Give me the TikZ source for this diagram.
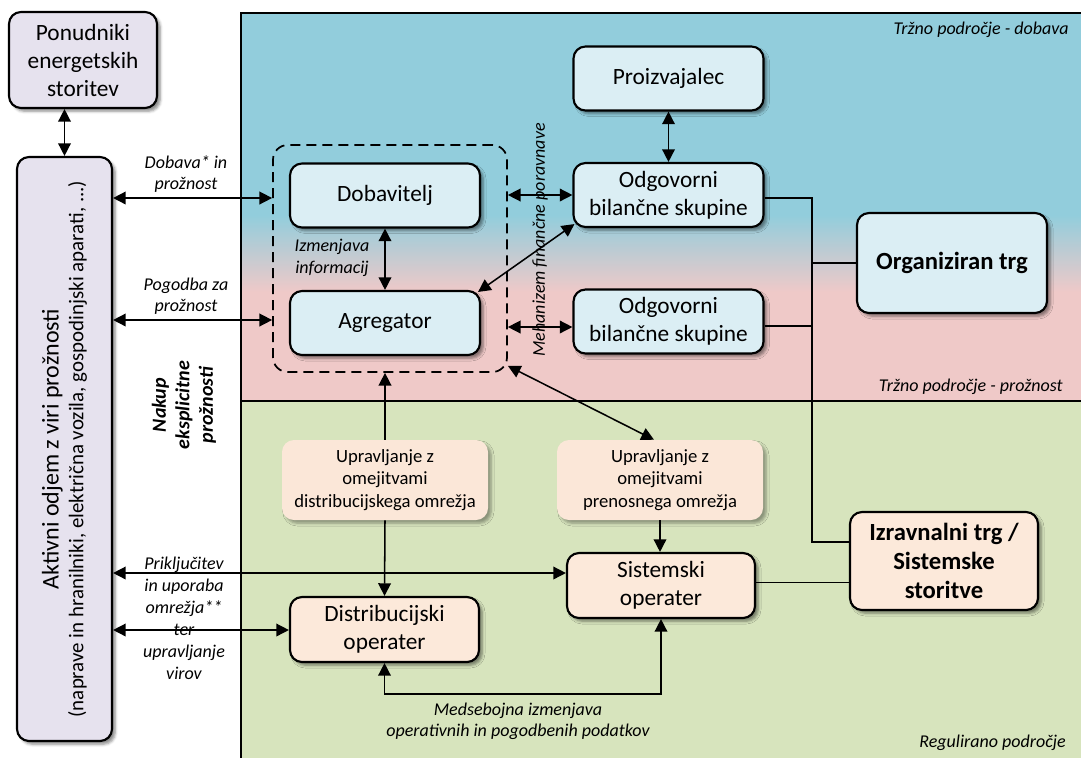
\documentclass[tikz,border=0pt]{standalone}
\usepackage{fontspec}
\setmainfont{Carlito}
\usetikzlibrary{arrows.meta,shadows.blur,calc}

\definecolor{regblue}{HTML}{92CDDC}
\definecolor{regpink}{HTML}{EFC9C8}
\definecolor{reggreen}{HTML}{D7E4BD}
\definecolor{boxblue}{HTML}{DBEEF4}
\definecolor{boxlav}{HTML}{E6E2EE}
\definecolor{boxpeach}{HTML}{FCE9DA}
\definecolor{uprpeach}{HTML}{FBE7D8}

\newcommand\bxfont{\fontsize{17.5}{21}\selectfont}
\newcommand\bxbold{\bfseries\fontsize{18.5}{21.5}\selectfont}
\newcommand\lblfont{\itshape\fontsize{13.5}{16}\selectfont}
\newcommand\regfont{\itshape\fontsize{13.5}{16}\selectfont}
\newcommand\uprfont{\fontsize{14}{17}\selectfont}

\tikzset{
  box/.style={draw, line width=1.6pt, rounded corners=9pt, align=center,
    inner sep=0pt, font=\bxfont,
    blur shadow={shadow xshift=2.5pt, shadow yshift=-2.5pt,
      shadow opacity=45, shadow blur radius=2pt}},
  bluebox/.style={box, fill=boxblue, minimum width=142.5pt, minimum height=48pt},
  lavbox/.style={box, fill=boxlav},
  peachbox/.style={box, fill=boxpeach},
  uprbox/.style={fill=uprpeach, rounded corners=9pt, align=center, inner sep=0pt,
    font=\uprfont, minimum height=60pt, minimum width=154.5pt,
    blur shadow={shadow xshift=2.5pt, shadow yshift=-2.5pt,
      shadow opacity=35, shadow blur radius=2pt}},
  lbl/.style={align=center, font=\lblfont, inner sep=0pt},
  reglbl/.style={font=\regfont, inner sep=0pt},
  conn/.style={line width=1.15pt},
  dbl/.style={conn, {Triangle[length=9.5pt,width=9.5pt]}-{Triangle[length=9.5pt,width=9.5pt]}},
  one/.style={conn, -{Triangle[length=9.5pt,width=9.5pt]}},
}

\begin{document}
\begin{tikzpicture}[x=0.75pt,y=-0.75pt]
\useasboundingbox (0,0) rectangle (1081,758);

% market and regulated areas
\fill[regblue] (241,13) rectangle (1081,215);
\shade[top color=regblue, bottom color=regpink] (241,215) rectangle (1081,292);
\fill[regpink] (241,292) rectangle (1081,401);
\fill[reggreen] (241,401) rectangle (1081,758);
\draw[line width=1.3pt] (1081,13) -- (241,13) -- (241,758);
\draw[line width=1.3pt] (241,401) -- (1081,401);

\node[reglbl, anchor=east] at (1069,30) {Tržno področje - dobava};
\node[reglbl, anchor=east] at (1063,387) {Tržno področje - prožnost};
\node[reglbl, anchor=east] at (1066,743) {Regulirano področje};

% left column
\node[lavbox, minimum width=111pt, minimum height=72pt] (pon) at (83,60)
  {Ponudniki\\energetskih\\storitev};
\node[lavbox, minimum width=71.25pt, minimum height=438pt] (akt) at (64.5,449) {};
\node[rotate=90, align=center, inner sep=0pt] (akttxt) at (akt.center)
  {{\fontsize{18}{21}\selectfont Aktivni odjem z viri prožnosti}\\[3pt]
   {\fontsize{15.7}{18}\selectfont (naprave in hranilniki, električna vozila, gospodinjski aparati, ...)}};

% market participants
\node[draw, line width=1.3pt, dash pattern=on 7.5pt off 4.5pt,
  rounded corners=11pt, minimum width=175.5pt, minimum height=170.25pt,
  inner sep=0pt] (grp) at (390,258.5) {};
\node[bluebox] (dob) at (385,195.5) {Dobavitelj};
\node[bluebox] (agr) at (385,323) {Agregator};
\node[bluebox] (proi) at (668.5,78.5) {Proizvajalec};
\node[bluebox] (odg1) at (668.5,195) {Odgovorni\\bilančne skupine};
\node[bluebox] (odg2) at (668.5,321.5) {Odgovorni\\bilančne skupine};
\node[bluebox, minimum height=75pt, font=\bxbold]
  (org) at (952,263) {Organiziran trg};

% regulated participants
\node[uprbox] (upd) at (385,480)
  {Upravljanje z\\omejitvami\\distribucijskega omrežja};
\node[uprbox] (upp) at (660,480)
  {Upravljanje z\\omejitvami\\prenosnega omrežja};
\node[peachbox, minimum width=141pt, minimum height=48.75pt] (sis) at (661,585.5)
  {Sistemski\\operater};
\node[peachbox, minimum width=141.75pt, minimum height=48.75pt] (dis) at (384.5,629.5)
  {Distribucijski\\operater};
\node[peachbox, minimum width=141pt, minimum height=73.5pt, font=\bxbold]
  (izr) at (944,561) {Izravnalni trg /\\Sistemske\\storitve};

% connectors
\coordinate (bus) at (812,0);
\draw[dbl] (akt.north |- pon.south) -- (akt.north);
\draw[dbl] (akt.east |- 0,198) -- (grp.west |- 0,198);
\draw[dbl] (akt.east |- 0,320) -- (grp.west |- 0,320);
\draw[dbl] (dob.south) -- (agr.north);
\draw[dbl] (grp.east |- odg1) -- (odg1.west);
\draw[dbl] (grp.east |- 0,327) -- (odg2.west |- 0,327);
\draw[dbl] ($(agr.north east)+(-3,2)$) -- ($(odg1.south west)+(2,-4)$);
\draw[dbl] (proi.south) -- (odg1.north);
\draw[conn] (odg1.east |- 0,198) -- (bus |- 0,198)
  -- ($(bus |- izr.west)+(0,-19)$) -- ($(izr.west)+(0,-19)$);
\draw[conn] (odg2.east |- 0,326) -- (bus |- 0,326);
\draw[conn] (org.west) -- (org.west -| bus);
\draw[conn] ($(sis.east)+(0,-3)$) -- ($(sis.east -| izr.west)+(0,-3)$);
\draw[one] (upd.north) -- (upd.north |- grp.south);
\draw[one] (upd.south) -- (dis.north);
\draw[dbl] ($(grp.south east)+(0,-7)$) -- ($(upp.north)+(-6,0)$);
\draw[one] (upp.south) -- (upp.south |- sis.north);
\draw[dbl] (akt.east |- 0,573) -- (sis.west |- 0,573);
\draw[dbl] (akt.east |- 0,630) -- (dis.west |- 0,630);
\draw[dbl] (dis.south) -- ++(0,31) -| (sis.south);

% connector labels
\node[lbl] at (186,174) {Dobava* in\\prožnost};
\node[lbl] at (186,296) {Pogodba za\\prožnost};
\node[lbl] at (332,258) {Izmenjava\\informacij};
\node[lbl, font=\itshape\fontsize{13.5}{16.5}\selectfont] at (184,618)
  {Priključitev\\in uporaba\\omrežja**\\ter\\upravljanje\\virov};
\node[lbl, rotate=90, font=\bfseries\itshape\fontsize{15}{17.6}\selectfont] at (184,405)
  {Nakup\\eksplicitne\\prožnosti};
\node[lbl, rotate=90] at (540,240) {Mehanizem finančne poravnave};
\node[lbl, font=\itshape\fontsize{13.5}{16}\selectfont] at (518,721)
  {Medsebojna izmenjava\\operativnih in pogodbenih podatkov};
\end{tikzpicture}
\end{document}
